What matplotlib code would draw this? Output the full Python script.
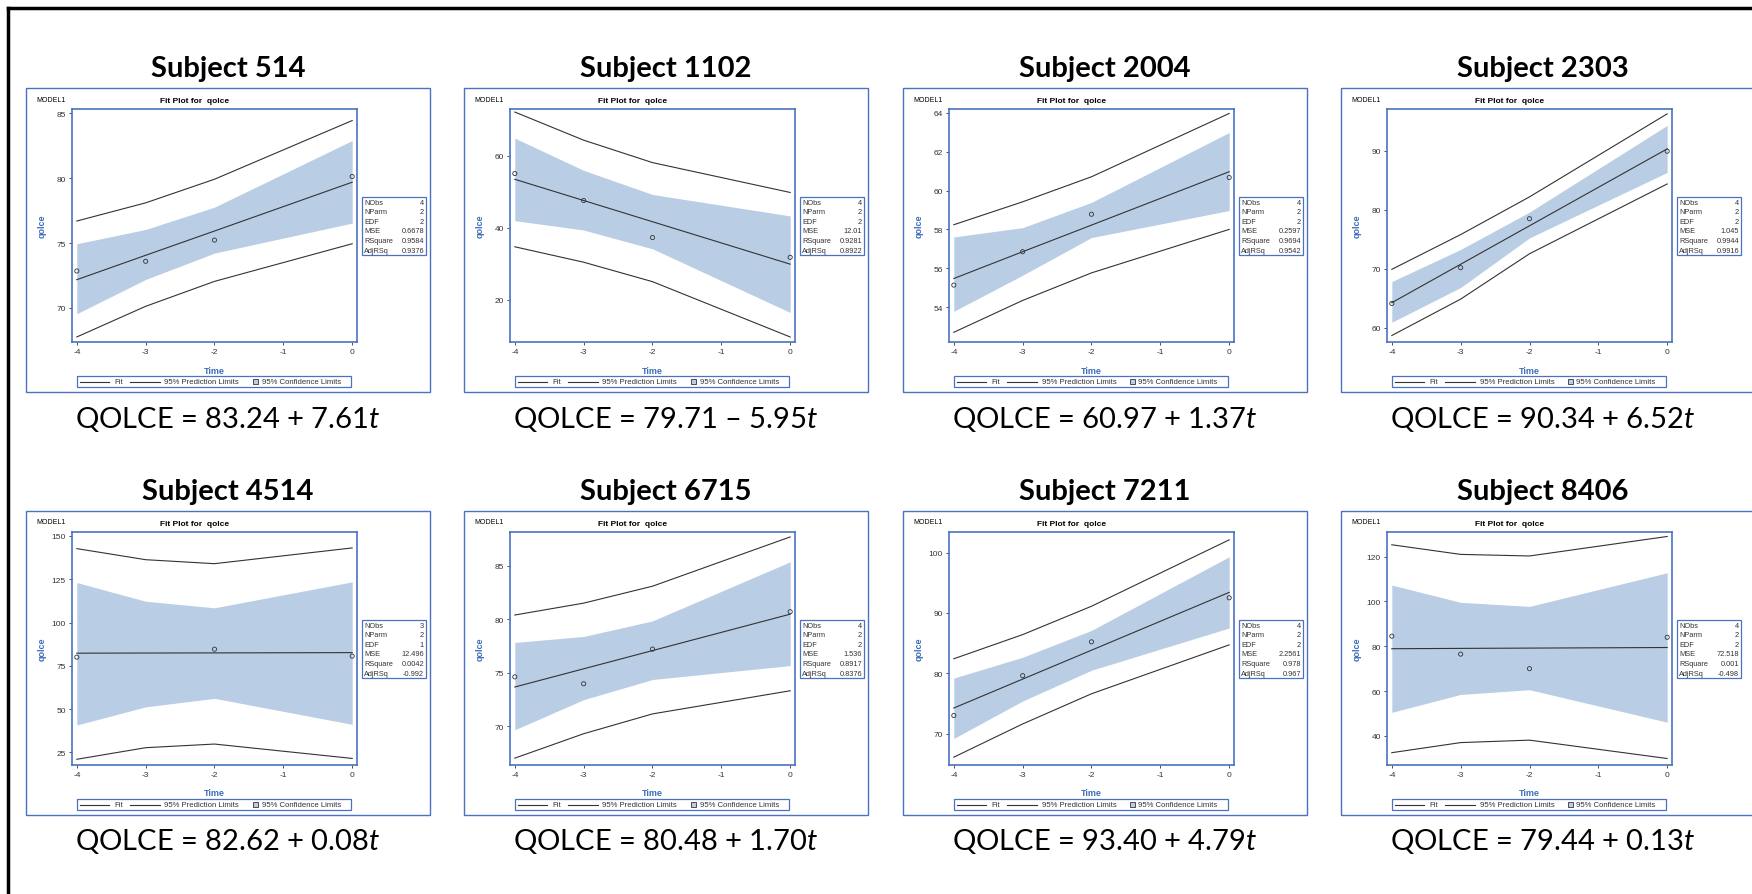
import matplotlib
matplotlib.use("Agg")
import matplotlib.pyplot as plt
from matplotlib.patches import Rectangle
from matplotlib.ticker import MultipleLocator
import numpy as np

plt.rcParams["axes.unicode_minus"] = False
plt.rcParams["mathtext.fontset"] = "custom"
plt.rcParams["mathtext.rm"] = "Lato"
plt.rcParams["mathtext.it"] = "Lato:italic"

W, H = 1752, 895

subjects = ["514", "1102", "2004", "2303", "4514", "6715", "7211", "8406"]
equations = [
    "QOLCE = 83.24 + 7.61$\\mathit{t}$",
    "QOLCE = 79.71 \u2013 5.95$\\mathit{t}$",
    "QOLCE = 60.97 + 1.37$\\mathit{t}$",
    "QOLCE = 90.34 + 6.52$\\mathit{t}$",
    "QOLCE = 82.62 + 0.08$\\mathit{t}$",
    "QOLCE = 80.48 + 1.70$\\mathit{t}$",
    "QOLCE = 93.40 + 4.79$\\mathit{t}$",
    "QOLCE = 79.44 + 0.13$\\mathit{t}$",
]

times = [-4, -3, -2, 0]

# observed qolce per subject (nan = no visit)
qolce = [
    [72.85, 73.6, 75.23, 80.13],
    [55.1, 47.6, 37.3, 31.8],
    [55.13, 56.85, 58.78, 60.67],
    [64.14, 70.2, 78.5, 89.94],
    [80.0, np.nan, 84.6, 80.6],
    [74.63, 73.98, 77.22, 80.71],
    [73.0, 79.6, 85.2, 92.5],
    [84.5, 76.5, 70.0, 84.0],
]
fit = [
    [72.18, 74.06, 75.93, 79.69],
    [53.5, 47.6, 41.7, 29.9],
    [55.47, 56.85, 58.22, 60.97],
    [64.26, 70.78, 77.3, 90.34],
    [82.3, 82.38, 82.46, 82.62],
    [73.68, 75.38, 77.08, 80.48],
    [74.24, 79.03, 83.82, 93.4],
    [78.9, 79.05, 79.18, 79.44],
]
clm_lo = [
    [69.56, 72.2, 74.23, 76.54],
    [42.0, 39.39, 34.17, 16.46],
    [53.78, 55.64, 57.58, 58.97],
    [60.95, 66.84, 75.25, 86.35],
    [40.8, 51.3, 56.2, 41.2],
    [69.69, 72.5, 74.38, 75.68],
    [69.2, 75.4, 80.5, 87.5],
    [50.5, 58.5, 60.6, 46.1],
]
clm_hi = [
    [74.95, 76.05, 77.77, 82.9],
    [64.94, 55.99, 49.28, 43.31],
    [57.61, 58.09, 59.39, 62.99],
    [67.85, 73.29, 79.62, 94.32],
    [123.1, 112.3, 108.5, 123.5],
    [77.84, 78.4, 79.85, 85.37],
    [79.2, 82.65, 87.1, 99.3],
    [107.3, 99.6, 97.8, 112.8],
]
pi_lo = [
    [67.77, 70.13, 72.05, 74.95],
    [34.73, 30.44, 25.03, 9.65],
    [52.7, 54.34, 55.76, 58.0],
    [58.7, 64.87, 72.56, 84.39],
    [21.0, 27.7, 29.8, 21.5],
    [67.04, 69.32, 71.17, 73.33],
    [66.1, 71.6, 76.6, 84.7],
    [32.5, 37.0, 38.1, 29.9],
]
pi_hi = [
    [76.7, 78.1, 79.92, 84.44],
    [72.2, 64.38, 58.14, 49.84],
    [58.24, 59.42, 60.71, 63.97],
    [69.92, 75.81, 82.2, 96.28],
    [142.7, 136.3, 134.0, 143.1],
    [80.4, 81.51, 83.09, 87.69],
    [82.4, 86.4, 91.1, 102.1],
    [125.3, 121.0, 120.3, 129.0],
]
y_limits = [(67.38, 85.33), (8.25, 73.05), (52.2, 64.2), (57.6, 97.1),
            (17.7, 152.3), (66.4, 88.15), (64.8, 103.4), (27.0, 131.0)]
y_steps = [5, 20, 2, 10, 25, 5, 10, 20]

stat_names = ["NObs", "NParm", "EDF", "MSE", "RSquare", "AdjRSq"]
nobs = ["4", "4", "4", "4", "3", "4", "4", "4"]
nparm = ["2"] * 8
edf = ["2", "2", "2", "2", "1", "2", "2", "2"]
mse = ["0.6678", "12.01", "0.2597", "1.045", "12.496", "1.536", "2.2561", "72.518"]
rsquare = ["0.9584", "0.9281", "0.9694", "0.9944", "0.0042", "0.8917", "0.978", "0.001"]
adjrsq = ["0.9376", "0.8922", "0.9542", "0.9916", "-0.992", "0.8376", "0.967", "-0.498"]

col_left = [26, 464, 903, 1341]
row_top = [89, 512]
PW, PH = 404, 304

SAS_BLUE = "#4a72c0"
LABEL_BLUE = "#3d6eb8"
BAND = "#b9cde5"
INK = "#333333"
SANS = "Liberation Sans"

fig = plt.figure(figsize=(W / 100, H / 100), dpi=100)
bg = fig.add_axes([0, 0, 1, 1])
bg.set_xlim(0, W)
bg.set_ylim(H, 0)
bg.axis("off")

# black frame: left and top edges
bg.plot([8, 8], [9, H + 5], color="black", lw=2.5, solid_capstyle="projecting")
bg.plot([8, W + 5], [9, 9], color="black", lw=2.5, solid_capstyle="projecting")

for i, subj in enumerate(subjects):
    L = col_left[i % 4]
    T = row_top[i // 4]
    right = L + PW if L + PW < W - 8 else W + 5

    bg.add_patch(Rectangle((L, T), right - L, PH, fill=False, ec=SAS_BLUE, lw=1.0))
    bg.text(L + PW / 2, T - 20, "Subject " + subj, ha="center", va="center",
            fontsize=21, fontweight="bold", family="Lato")
    bg.text(L + PW / 2, T + PH + 26, equations[i], ha="center", va="center",
            fontsize=21, family="Lato")

    bg.text(L + 10, T + 11, "MODEL1", ha="left", va="center", fontsize=5, family=SANS)
    bg.text(L + 169, T + 12, "Fit Plot for  qolce", ha="center", va="center",
            fontsize=6, fontweight="bold", family=SANS)
    bg.text(L + 16, T + 137, "qolce", ha="center", va="center", rotation=90,
            fontsize=6.5, fontweight="bold", color=LABEL_BLUE, family=SANS)
    bg.text(L + 188, T + 282, "Time", ha="center", va="center",
            fontsize=6.5, fontweight="bold", color=LABEL_BLUE, family=SANS)

    # legend strip
    lx, ly = L + 51, T + 288
    bg.add_patch(Rectangle((lx, ly), 274, 11, fill=False, ec=SAS_BLUE, lw=0.9))
    cy = ly + 5.5
    bg.plot([lx + 3, lx + 32], [cy, cy], color=INK, lw=0.8)
    bg.text(lx + 37, cy, "Fit", va="center", fontsize=5.6, family=SANS, color=INK)
    bg.plot([lx + 53, lx + 83], [cy, cy], color=INK, lw=0.8)
    bg.text(lx + 87.5, cy, "95% Prediction Limits", va="center", fontsize=5.6, family=SANS, color=INK)
    bg.add_patch(Rectangle((lx + 175.5, cy - 2.6), 5.2, 5.2, fc=BAND, ec=INK, lw=0.6))
    bg.text(lx + 184.5, cy, "95% Confidence Limits", va="center", fontsize=5.6, family=SANS, color=INK)

    # fit statistics inset
    sx, sy = L + 336, T + 109
    bg.add_patch(Rectangle((sx, sy), 64, 58, fill=False, ec=SAS_BLUE, lw=0.9))
    vals = [nobs[i], nparm[i], edf[i], mse[i], rsquare[i], adjrsq[i]]
    for k, (name, v) in enumerate(zip(stat_names, vals)):
        yy = sy + 5 + k * 9.6
        bg.text(sx + 2, yy, name, va="center", ha="left", fontsize=5.3, family=SANS, color=INK)
        bg.text(sx + 62, yy, v, va="center", ha="right", fontsize=5.3, family=SANS, color=INK)

    ax = fig.add_axes([(L + 46) / W, 1 - (T + 254) / H, 285 / W, 233 / H])
    ax.fill_between(times, clm_lo[i], clm_hi[i], color=BAND, lw=0)
    ax.plot(times, pi_lo[i], color=INK, lw=0.8)
    ax.plot(times, pi_hi[i], color=INK, lw=0.8)
    ax.plot(times, fit[i], color=INK, lw=0.8)
    ax.scatter(times, qolce[i], s=9, facecolors="none", edgecolors=INK, lw=0.6, zorder=3)
    ax.set_xlim(-4.07, 0.07)
    ax.set_ylim(*y_limits[i])
    ax.set_xticks([-4, -3, -2, -1, 0])
    ax.yaxis.set_major_locator(MultipleLocator(y_steps[i]))
    ax.tick_params(direction="out", length=2.5, width=0.6, color=INK, labelsize=6,
                   labelcolor=INK, pad=2)
    for lab in ax.get_xticklabels() + ax.get_yticklabels():
        lab.set_family(SANS)
    for sp in ax.spines.values():
        sp.set_color(SAS_BLUE)
        sp.set_linewidth(1.2)

fig.savefig("out.png", dpi=100)
